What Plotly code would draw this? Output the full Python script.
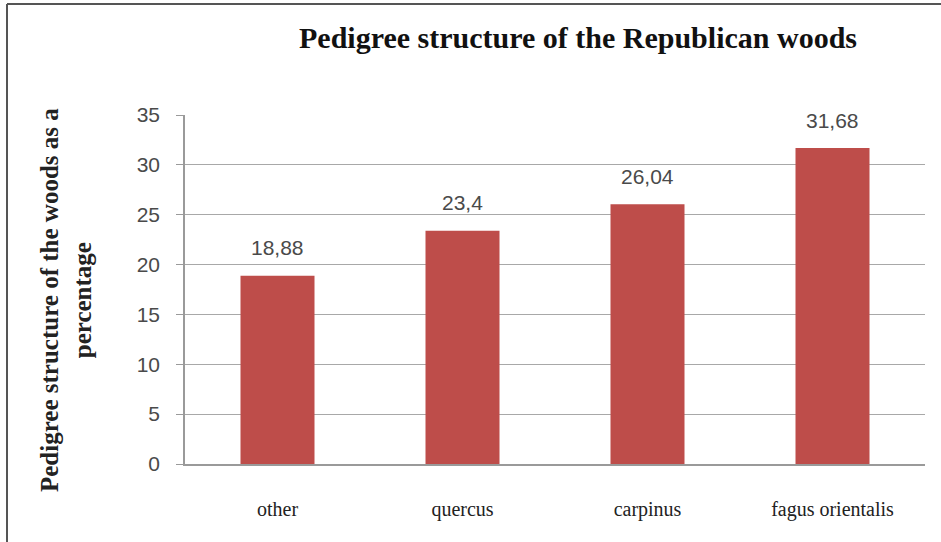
import plotly.graph_objects as go

categories = ["other", "quercus", "carpinus", "fagus orientalis"]
values = [18.88, 23.4, 26.04, 31.68]
labels = ["18,88", "23,4", "26,04", "31,68"]
tick_vals = [0, 5, 10, 15, 20, 25, 30, 35]

W, H = 941, 542
L, R, T, B = 185, 16, 115, 78
pw, ph = W - L - R, H - T - B


def px_to_paper_x(px):
    return (px - L) / pw


def px_to_paper_y(py):
    return (H - B - py) / ph


fig = go.Figure()
fig.add_trace(go.Bar(x=categories, y=values, marker=dict(color="#BE4D4A", line=dict(width=0)),
                     hoverinfo="skip"))

for c, v, t in zip(categories, values, labels):
    fig.add_annotation(x=c, y=v, text=t, showarrow=False, yanchor="middle", yshift=28,
                       font=dict(family="Liberation Sans", size=21, color="#4a4a4a"))

# y-axis title as two-line rotated annotation
fig.add_annotation(xref="paper", yref="paper", x=px_to_paper_x(66), y=px_to_paper_y(300),
                   xanchor="center", yanchor="middle", textangle=-90, showarrow=False,
                   text="<b>Pedigree structure of the woods as a<br>percentage</b>",
                   font=dict(family="Liberation Serif", size=25, color="#222222"))

# frame lines (left and top)
fig.add_shape(type="line", xref="paper", yref="paper",
              x0=px_to_paper_x(7), x1=px_to_paper_x(7), y0=px_to_paper_y(4), y1=px_to_paper_y(545),
              line=dict(color="#555555", width=2))
fig.add_shape(type="line", xref="paper", yref="paper",
              x0=px_to_paper_x(7), x1=px_to_paper_x(945), y0=px_to_paper_y(4), y1=px_to_paper_y(4),
              line=dict(color="#555555", width=2))

fig.update_layout(
    width=W, height=H,
    margin=dict(l=L, r=R, t=T, b=B),
    paper_bgcolor="white", plot_bgcolor="white",
    bargap=0.6,
    showlegend=False,
    title=dict(text="<b>Pedigree structure of the Republican woods</b>", x=578 / W,
               xanchor="center", y=1 - 37 / H, yanchor="middle",
               font=dict(family="Liberation Serif", size=30, color="#111111")),
    xaxis=dict(showgrid=False, showline=True, linecolor="#9a9a9a", linewidth=1.5,
               ticks="", ticklabelstandoff=26,
               tickfont=dict(family="Liberation Serif", size=20, color="#222222")),
    yaxis=dict(range=[0, 35], tickvals=tick_vals, showgrid=True, gridcolor="#a8a8a8", gridwidth=1.2,
               showline=True, linecolor="#9a9a9a", linewidth=1.5, ticks="outside", ticklen=7,
               tickcolor="#9a9a9a", ticklabelstandoff=12, zeroline=False,
               tickfont=dict(family="Liberation Sans", size=21, color="#4a4a4a")),
)

fig.write_html("out.html", config={"displayModeBar": False},
               post_script="document.body.style.margin='0px';")
